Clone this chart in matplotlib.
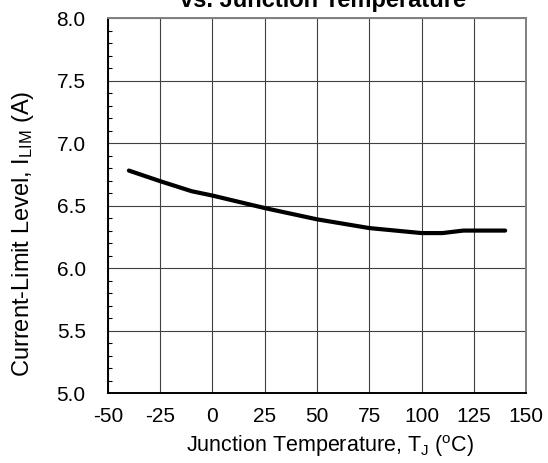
import matplotlib
matplotlib.use("Agg")
import matplotlib.pyplot as plt
from matplotlib.ticker import MultipleLocator

plt.rcParams['font.family'] = ['Liberation Sans', 'DejaVu Sans']
plt.rcParams['mathtext.fontset'] = 'custom'
plt.rcParams['mathtext.rm'] = 'Liberation Sans'
plt.rcParams['mathtext.it'] = 'Liberation Sans'

# data
temp = [-40, -25, -10, 0, 25, 50, 75, 100, 110, 120, 140]
ilim = [6.78, 6.695, 6.615, 6.58, 6.48, 6.39, 6.32, 6.28, 6.28, 6.30, 6.30]

x_ticks = [-50, -25, 0, 25, 50, 75, 100, 125, 150]
y_ticks = [5.0, 5.5, 6.0, 6.5, 7.0, 7.5, 8.0]

fig = plt.figure(figsize=(5.48, 4.63), dpi=100)
ax = fig.add_axes([0.197, 0.151, 0.763, 0.810])

ax.plot(temp, ilim, color='black', linewidth=3.0, solid_capstyle='round')

ax.set_xlim(-50, 150)
ax.set_ylim(5.0, 8.0)
ax.set_xticks(x_ticks)
ax.set_xticklabels([str(t) for t in x_ticks])
ax.set_yticks(y_ticks)
ax.set_yticklabels([f"{v:.1f}" for v in y_ticks])
ax.yaxis.set_minor_locator(MultipleLocator(0.1))

ax.grid(True, which='major', color='#404040', linewidth=0.8)
ax.tick_params(which='major', length=0, labelsize=15)
ax.tick_params(axis='y', which='major', pad=16)
ax.tick_params(axis='x', which='major', pad=10)
ax.tick_params(axis='y', which='minor', direction='in', length=3, width=0.8)

for side in ['left', 'bottom']:
    ax.spines[side].set_color('black')
    ax.spines[side].set_linewidth(1.4)
for side in ['top', 'right']:
    ax.spines[side].set_color('#808080')
    ax.spines[side].set_linewidth(1.4)

ax.set_xlabel(r"Junction Temperature, T$_{\mathrm{J}}$ ($\mathrm{^oC}$)", fontsize=15.5)
ax.set_ylabel(r"Current-Limit Level, I$_{\mathrm{LIM}}$ (A)", fontsize=17)
ax.xaxis.set_label_coords(0.531, -0.108)
ax.yaxis.set_label_coords(-0.172, 0.424)
ax.set_title("vs. Junction Temperature", fontsize=17, fontweight='bold', pad=8, x=0.515)

fig.savefig("out.png", dpi=100)
